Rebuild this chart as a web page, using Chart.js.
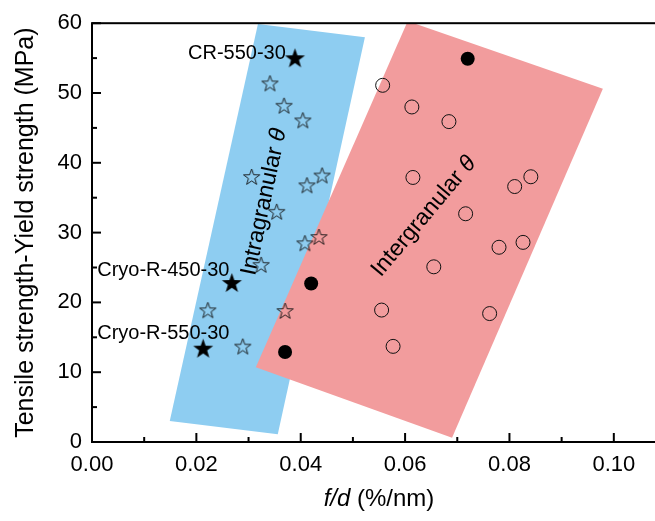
<!DOCTYPE html>
<html>
<head>
<meta charset="utf-8">
<script src="https://cdn.jsdelivr.net/npm/chart.js@4"></script>
<style>
  html, body { margin:0; padding:0; background:#fff; overflow:hidden; }
  #wrap { width:680px; height:521px; }
</style>
</head>
<body>
<div id="wrap"><canvas id="c" width="680" height="521"></canvas></div>
<script>
// ── values ─────────────────────────────────────────────────────
const intraX = [0.0341,0.0368,0.0404,0.0306,0.0412,0.0441,0.0354,0.0408,0.0435,0.0324,0.0222,0.0370,0.0289];
const intraY = [51.3,48.1,46.0,37.9,36.7,38.1,32.9,28.4,29.3,25.3,18.8,18.7,13.6];
const interX = [0.0557,0.0613,0.0684,0.0615,0.0810,0.0841,0.0716,0.0780,0.0826,0.0655,0.0555,0.0762,0.0577];
const interY = [51.1,48.0,45.9,37.9,36.6,38.0,32.7,27.9,28.6,25.1,18.9,18.4,13.7];
const sampleNames = ["CR-550-30","Cryo-R-450-30","Cryo-R-550-30"];
const sampleStarX = [0.0389,0.0268,0.0213];
const sampleStarY = [54.9,22.7,13.3];
const sampleCircX = [0.0720,0.0420,0.0370];
const sampleCircY = [54.9,22.7,12.9];
// shaded regions (corner points)
const blueX = [0.0318,0.0523,0.0356,0.0149];
const blueY = [59.9,58.0,1.1,3.0];
const redX = [0.0605,0.0979,0.0690,0.0314];
const redY = [60.3,50.6,0.6,10.7];
const regionNames = ["Intragranular", "Intergranular"];
// axis ticks
const xTicks = [0,0.02,0.04,0.06,0.08,0.10];
const xMinor = [0.01,0.03,0.05,0.07,0.09];
const yTicks = [0,10,20,30,40,50,60];
const yMinor = [5,15,25,35,45,55];

const FONT = "'Liberation Sans', Arial, Helvetica, sans-serif";

// label anchors (data coords) + region label placement
const sampleLabelAt = [[0.0184,55.7],[0.0010,24.6],[0.0010,15.6]];
const regionLabelAt = [[0.0330,34.4,-78],[0.0636,32.3,-50]];

const pts = (xs, ys) => xs.map((v, i) => ({ x: v, y: ys[i] }));

function starImage(r, filled) {
  const s = Math.ceil(r * 2 + 4);
  const cv = document.createElement("canvas");
  cv.width = cv.height = s;
  const g = cv.getContext("2d");
  g.beginPath();
  for (let i = 0; i < 10; i++) {
    const rr = i % 2 ? r * 0.4 : r;
    const a = -Math.PI / 2 + i * Math.PI / 5;
    g.lineTo(s / 2 + rr * Math.cos(a), s / 2 + rr * Math.sin(a));
  }
  g.closePath();
  if (filled) { g.fillStyle = "#000"; g.fill(); }
  else { g.strokeStyle = "#111"; g.lineWidth = 0.9; g.stroke(); }
  return cv;
}

const decor = {
  id: "decor",
  afterDatasetsDraw(chart) {
    const { ctx, scales: { x, y } } = chart;
    ctx.save();
    ctx.fillStyle = "#000";
    // sample labels
    ctx.font = "20px " + FONT;
    ctx.textAlign = "left"; ctx.textBaseline = "middle";
    sampleNames.forEach((n, i) => {
      ctx.fillText(n, x.getPixelForValue(sampleLabelAt[i][0]), y.getPixelForValue(sampleLabelAt[i][1]));
    });
    // region labels
    regionNames.forEach((n, i) => {
      const [vx, vy, ang] = regionLabelAt[i];
      ctx.save();
      ctx.translate(x.getPixelForValue(vx), y.getPixelForValue(vy));
      ctx.rotate(ang * Math.PI / 180);
      ctx.font = "23px " + FONT;
      const w1 = ctx.measureText(n + " ").width;
      ctx.font = "italic 23px " + FONT;
      const w2 = ctx.measureText("θ").width;
      let sx = -(w1 + w2) / 2;
      ctx.textAlign = "left"; ctx.textBaseline = "middle";
      ctx.font = "23px " + FONT;
      ctx.fillText(n + " ", sx, 0);
      ctx.font = "italic 23px " + FONT;
      ctx.fillText("θ", sx + w1, 0);
      ctx.restore();
    });
    ctx.restore();
  },
  afterDraw(chart) {
    const { ctx, chartArea: a, scales: { x, y } } = chart;
    ctx.save();
    ctx.strokeStyle = "#000"; ctx.lineWidth = 2;
    ctx.strokeRect(a.left, a.top, a.right - a.left, a.bottom - a.top);
    const seg = (x1, y1, x2, y2) => { ctx.beginPath(); ctx.moveTo(x1, y1); ctx.lineTo(x2, y2); ctx.stroke(); };
    xTicks.forEach(v => { const p = x.getPixelForValue(v); seg(p, a.bottom, p, a.bottom - 9); });
    xMinor.forEach(v => { const p = x.getPixelForValue(v); seg(p, a.bottom, p, a.bottom - 5); });
    yTicks.forEach(v => { const p = y.getPixelForValue(v); seg(a.left, p, a.left + 9, p); });
    yMinor.forEach(v => { const p = y.getPixelForValue(v); seg(a.left, p, a.left + 5, p); });
    // x axis title: f/d italic
    ctx.fillStyle = "#000"; ctx.textBaseline = "middle"; ctx.textAlign = "left";
    ctx.font = "italic 24px " + FONT;
    const w1 = ctx.measureText("f/d").width;
    ctx.font = "24px " + FONT;
    const w2 = ctx.measureText(" (%/nm)").width;
    const cx = (a.left + a.right) / 2, sx = cx - (w1 + w2) / 2;
    ctx.font = "italic 24px " + FONT;
    ctx.fillText("f/d", sx, 499);
    ctx.font = "24px " + FONT;
    ctx.fillText(" (%/nm)", sx + w1, 499);
    ctx.restore();
  }
};

new Chart(document.getElementById("c"), {
  type: "scatter",
  data: {
    datasets: [
      { data: pts(sampleCircX, sampleCircY), pointStyle: "circle", pointRadius: 7,
        backgroundColor: "#000", borderColor: "#000", borderWidth: 0, order: 0 },
      { data: pts(sampleStarX, sampleStarY), pointStyle: starImage(10.5, true), pointRadius: 9, order: 0 },
      { data: pts(interX, interY), pointStyle: "circle", pointRadius: 7,
        backgroundColor: "rgba(0,0,0,0)", borderColor: "#111", borderWidth: 1, order: 1 },
      { data: pts(intraX, intraY), pointStyle: starImage(8.5, false), pointRadius: 8, order: 1 },
      { data: pts(redX, redY), showLine: true, fill: "shape", backgroundColor: "#f29c9d",
        borderColor: "rgba(0,0,0,0)", borderWidth: 0, pointRadius: 0, order: 4 },
      { data: pts(blueX, blueY), showLine: true, fill: "shape", backgroundColor: "#8ecdf1",
        borderColor: "rgba(0,0,0,0)", borderWidth: 0, pointRadius: 0, order: 5 }
    ]
  },
  options: {
    responsive: false,
    animation: false,
    layout: { padding: { top: 22, right: 14, left: 0, bottom: 0 } },
    plugins: { legend: { display: false }, tooltip: { enabled: false } },
    scales: {
      x: {
        type: "linear", min: 0, max: 0.11,
        afterBuildTicks: s => { s.ticks = xTicks.map(v => ({ value: v })); },
        afterFit: s => { s.height = 79; },
        grid: { display: true, drawOnChartArea: false, drawTicks: false },
        border: { display: false },
        ticks: { padding: 10, color: "#000", font: { family: FONT, size: 22 },
          maxRotation: 0, autoSkip: false, callback: v => Number(v).toFixed(2) }
      },
      y: {
        type: "linear", min: 0, max: 60,
        afterBuildTicks: s => { s.ticks = yTicks.map(v => ({ value: v })); },
        afterFit: s => { s.width = 92; },
        grid: { display: true, drawOnChartArea: false, drawTicks: false },
        border: { display: false },
        ticks: { padding: 10, color: "#000", font: { family: FONT, size: 22 }, callback: v => String(v) },
        title: { display: true, text: "Tensile strength-Yield strength (MPa)", color: "#000",
          font: { family: FONT, size: 25 }, padding: { top: 11, bottom: 0 } }
      }
    }
  },
  plugins: [decor]
});
</script>
</body>
</html>
